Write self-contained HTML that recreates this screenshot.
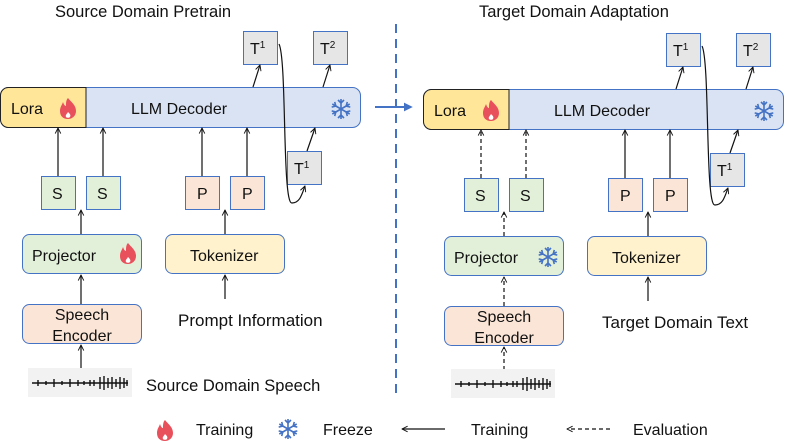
<!DOCTYPE html>
<html><head><meta charset="utf-8"><style>
html,body{margin:0;padding:0;background:#fff;}
svg{display:block;font-family:"Liberation Sans","DejaVu Sans",sans-serif;}
text{fill:#111;}
</style></head><body>
<svg width="785" height="441" viewBox="0 0 785 441" xmlns="http://www.w3.org/2000/svg">
<defs>
<marker id="ah" viewBox="0 0 10 10" refX="9" refY="5" markerWidth="7" markerHeight="7" orient="auto-start-reverse" markerUnits="userSpaceOnUse"><path d="M1,1 L9,5 L1,9" fill="none" stroke="#111" stroke-width="1.3"/></marker>
<marker id="bh" viewBox="0 0 10 10" refX="8" refY="5" markerWidth="9" markerHeight="9" orient="auto" markerUnits="userSpaceOnUse"><path d="M0,0 L10,5 L0,10 z" fill="#4472c4"/></marker>
<g id="flame"><path d="M0,-10 C3,-6 8,-3 8,3 C8,8 4,11 0,11 C-5,11 -8,8 -8,3 C-8,-1 -6,-3 -5,-6 C-4,-3 -3,-2 -2,-2 C-2,-5 -2,-8 0,-10 Z" fill="#e8505b"/><path d="M0,4 C2,6 3,7 2,9 C1,10 -1,10 -2,9 C-3,7 -1,6 0,4Z" fill="#fff"/></g>
<g id="snow" stroke="#4472c4" stroke-width="1.6" fill="none"><path d="M0,-10V10M-8.7,-5L8.7,5M-8.7,5L8.7,-5"/><path d="M-3,-9L0,-6L3,-9M-3,9L0,6L3,9M-9.3,-1.9L-5.2,-3L-6.3,-7.1M9.3,1.9L5.2,3L6.3,7.1M-9.3,1.9L-5.2,3L-6.3,7.1M9.3,-1.9L5.2,-3L6.3,-7.1"/></g>
<g id="wave"><rect x="0" y="0" width="104" height="29" fill="#f2f2f2"/><path d="M4,15 H100" stroke="#111" stroke-width="1.5"/><path d="M10,12v6M18,13v4M26,11v8M34,13v4M42,11v8M50,12v6M56,13v4M62,12v6M66,12v6M72,9v12M76,8v14M80,10v10M84,9v12M88,11v8M92,9v12M96,10v10M99,12v6" stroke="#111" stroke-width="1.4"/></g>
</defs>

<text x="55" y="17" font-size="16.5">Source Domain Pretrain</text>
<text x="479" y="17" font-size="16.5">Target Domain Adaptation</text>

<line x1="396" y1="24" x2="396" y2="398" stroke="#4472c4" stroke-width="2" stroke-dasharray="9,6"/>
<line x1="375" y1="107" x2="411" y2="107" stroke="#4472c4" stroke-width="2" marker-end="url(#bh)"/>

<g>
<rect x="0.5" y="87.5" width="360" height="40" rx="8" fill="#dae3f3" stroke="#4472c4"/>
<path d="M8,87.5 H86 V127.5 H8 A8,8 0 0 1 0.5,119.5 V95.5 A8,8 0 0 1 8,87.5Z" fill="#ffe699" stroke="#222" stroke-width="1"/>
<text x="11" y="114" font-size="16">Lora</text>
<use href="#flame" x="68" y="108"/>
<text x="131" y="114" font-size="16">LLM Decoder</text>
<use href="#snow" x="341" y="109"/>
<rect x="243.5" y="31.5" width="34" height="33" fill="#e7e6e6" stroke="#4472c4"/>
<text x="250" y="54" font-size="16">T<tspan font-size="10" dy="-6">1</tspan></text>
<rect x="313.5" y="31.5" width="34" height="33" fill="#e7e6e6" stroke="#4472c4"/>
<text x="320" y="54" font-size="16">T<tspan font-size="10" dy="-6">2</tspan></text>
<rect x="287.5" y="151.5" width="34" height="33" fill="#e7e6e6" stroke="#4472c4"/>
<text x="294" y="174" font-size="16">T<tspan font-size="10" dy="-6">1</tspan></text>
<line x1="253" y1="87" x2="260" y2="65" stroke="#111" stroke-width="1.2" marker-end="url(#ah)"/>
<line x1="323" y1="87" x2="330" y2="65" stroke="#111" stroke-width="1.2" marker-end="url(#ah)"/>
<line x1="307" y1="151" x2="315" y2="128" stroke="#111" stroke-width="1.2" marker-end="url(#ah)"/>
<path d="M279,44 C287,60 282,205 292,203 C300,203 302,194 305,186" fill="none" stroke="#111" stroke-width="1.2" marker-end="url(#ah)"/>
<rect x="41.5" y="176.5" width="34" height="33" fill="#e2f0d9" stroke="#4472c4"/>
<text x="52" y="199" font-size="16">S</text>
<rect x="86.5" y="176.5" width="34" height="33" fill="#e2f0d9" stroke="#4472c4"/>
<text x="97" y="199" font-size="16">S</text>
<rect x="185.5" y="176.5" width="34" height="33" fill="#fbe5d6" stroke="#4472c4"/>
<text x="197" y="199" font-size="16">P</text>
<rect x="230.5" y="176.5" width="34" height="33" fill="#fbe5d6" stroke="#4472c4"/>
<text x="242" y="199" font-size="16">P</text>
<line x1="58" y1="176" x2="58" y2="128" stroke="#111" stroke-width="1.2" marker-end="url(#ah)"/>
<line x1="103" y1="176" x2="103" y2="128" stroke="#111" stroke-width="1.2" marker-end="url(#ah)"/>
<line x1="202" y1="176" x2="202" y2="128" stroke="#111" stroke-width="1.2" marker-end="url(#ah)"/>
<line x1="247" y1="176" x2="247" y2="128" stroke="#111" stroke-width="1.2" marker-end="url(#ah)"/>
<line x1="81" y1="234" x2="81" y2="210" stroke="#111" stroke-width="1.2" marker-end="url(#ah)"/>
<line x1="225" y1="234" x2="225" y2="210" stroke="#111" stroke-width="1.2" marker-end="url(#ah)"/>
<rect x="22.5" y="234.5" width="119" height="39" rx="7" fill="#e2f0d9" stroke="#4472c4"/>
<text x="32" y="261" font-size="16">Projector</text>
<use href="#flame" x="128" y="253"/>
<rect x="165.5" y="234.5" width="119" height="39" rx="7" fill="#fff2cc" stroke="#4472c4"/>
<text x="190" y="261" font-size="16">Tokenizer</text>
<line x1="225" y1="299" x2="225" y2="275" stroke="#111" stroke-width="1.2" marker-end="url(#ah)"/>
<line x1="81" y1="304" x2="81" y2="275" stroke="#111" stroke-width="1.2" marker-end="url(#ah)"/>
<rect x="22.5" y="304.5" width="119" height="39" rx="7" fill="#fbe5d6" stroke="#4472c4"/>
<text x="82" y="320" font-size="16" text-anchor="middle">Speech</text>
<text x="82" y="341" font-size="16" text-anchor="middle">Encoder</text>
<text x="178" y="326" font-size="17">Prompt Information</text>
<line x1="81" y1="368" x2="81" y2="345" stroke="#111" stroke-width="1.2" marker-end="url(#ah)"/>
<use href="#wave" x="28" y="368"/>
<text x="146" y="391" font-size="16.5">Source Domain Speech</text>
</g>

<g transform="translate(423,2)">
<rect x="0.5" y="87.5" width="360" height="40" rx="8" fill="#dae3f3" stroke="#4472c4"/>
<path d="M8,87.5 H86 V127.5 H8 A8,8 0 0 1 0.5,119.5 V95.5 A8,8 0 0 1 8,87.5Z" fill="#ffe699" stroke="#222" stroke-width="1"/>
<text x="11" y="114" font-size="16">Lora</text>
<use href="#flame" x="68" y="108"/>
<text x="131" y="114" font-size="16">LLM Decoder</text>
<use href="#snow" x="341" y="109"/>
<rect x="243.5" y="31.5" width="34" height="33" fill="#e7e6e6" stroke="#4472c4"/>
<text x="250" y="54" font-size="16">T<tspan font-size="10" dy="-6">1</tspan></text>
<rect x="313.5" y="31.5" width="34" height="33" fill="#e7e6e6" stroke="#4472c4"/>
<text x="320" y="54" font-size="16">T<tspan font-size="10" dy="-6">2</tspan></text>
<rect x="287.5" y="151.5" width="34" height="33" fill="#e7e6e6" stroke="#4472c4"/>
<text x="294" y="174" font-size="16">T<tspan font-size="10" dy="-6">1</tspan></text>
<line x1="253" y1="87" x2="260" y2="65" stroke="#111" stroke-width="1.2" marker-end="url(#ah)"/>
<line x1="323" y1="87" x2="330" y2="65" stroke="#111" stroke-width="1.2" marker-end="url(#ah)"/>
<line x1="307" y1="151" x2="315" y2="128" stroke="#111" stroke-width="1.2" marker-end="url(#ah)"/>
<path d="M279,44 C287,60 282,205 292,203 C300,203 302,194 305,186" fill="none" stroke="#111" stroke-width="1.2" marker-end="url(#ah)"/>
<rect x="41.5" y="176.5" width="34" height="33" fill="#e2f0d9" stroke="#4472c4"/>
<text x="52" y="199" font-size="16">S</text>
<rect x="86.5" y="176.5" width="34" height="33" fill="#e2f0d9" stroke="#4472c4"/>
<text x="97" y="199" font-size="16">S</text>
<rect x="185.5" y="176.5" width="34" height="33" fill="#fbe5d6" stroke="#4472c4"/>
<text x="197" y="199" font-size="16">P</text>
<rect x="230.5" y="176.5" width="34" height="33" fill="#fbe5d6" stroke="#4472c4"/>
<text x="242" y="199" font-size="16">P</text>
<line x1="58" y1="176" x2="58" y2="128" stroke="#111" stroke-width="1.2" stroke-dasharray="4,3" marker-end="url(#ah)"/>
<line x1="103" y1="176" x2="103" y2="128" stroke="#111" stroke-width="1.2" stroke-dasharray="4,3" marker-end="url(#ah)"/>
<line x1="202" y1="176" x2="202" y2="128" stroke="#111" stroke-width="1.2" marker-end="url(#ah)"/>
<line x1="247" y1="176" x2="247" y2="128" stroke="#111" stroke-width="1.2" marker-end="url(#ah)"/>
<line x1="81" y1="234" x2="81" y2="210" stroke="#111" stroke-width="1.2" stroke-dasharray="4,3" marker-end="url(#ah)"/>
<line x1="225" y1="234" x2="225" y2="210" stroke="#111" stroke-width="1.2" marker-end="url(#ah)"/>
<rect x="21.5" y="234.5" width="119" height="39" rx="7" fill="#e2f0d9" stroke="#4472c4"/>
<text x="31" y="261" font-size="16">Projector</text>
<use href="#snow" x="125" y="255"/>
<rect x="164.5" y="234.5" width="119" height="39" rx="7" fill="#fff2cc" stroke="#4472c4"/>
<text x="189" y="261" font-size="16">Tokenizer</text>
<line x1="225" y1="299" x2="225" y2="275" stroke="#111" stroke-width="1.2" marker-end="url(#ah)"/>
<line x1="81" y1="304" x2="81" y2="275" stroke="#111" stroke-width="1.2" stroke-dasharray="4,3" marker-end="url(#ah)"/>
<rect x="21.5" y="304.5" width="119" height="39" rx="7" fill="#fbe5d6" stroke="#4472c4"/>
<text x="81" y="320" font-size="16" text-anchor="middle">Speech</text>
<text x="81" y="341" font-size="16" text-anchor="middle">Encoder</text>
<text x="179" y="326" font-size="17">Target Domain Text</text>
<line x1="81" y1="368" x2="81" y2="345" stroke="#111" stroke-width="1.2" stroke-dasharray="4,3" marker-end="url(#ah)"/>
<use href="#wave" x="28" y="367"/>
</g>

<use href="#flame" x="165" y="430"/>
<text x="196" y="435" font-size="16">Training</text>
<use href="#snow" x="288" y="429"/>
<text x="323" y="435" font-size="16">Freeze</text>
<line x1="445" y1="429" x2="402" y2="429" stroke="#111" stroke-width="1.2" marker-end="url(#ah)"/>
<text x="471" y="435" font-size="16">Training</text>
<line x1="610" y1="429" x2="567" y2="429" stroke="#111" stroke-width="1.2" stroke-dasharray="4,3" marker-end="url(#ah)"/>
<text x="633" y="435" font-size="16">Evaluation</text>
</svg>
</body></html>
